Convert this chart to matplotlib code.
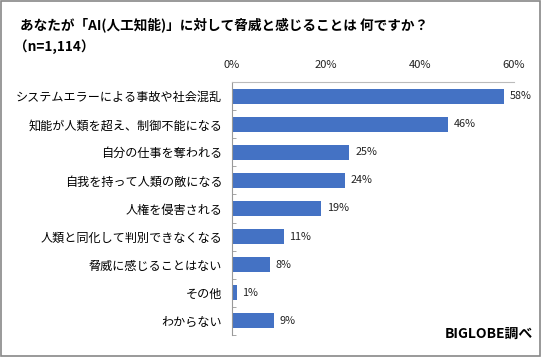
import matplotlib
matplotlib.use("Agg")
import matplotlib.pyplot as plt
from matplotlib.patches import Rectangle
from matplotlib.ticker import FuncFormatter

plt.rcParams["font.family"] = ["Noto Sans CJK JP", "DejaVu Sans"]

# ---------------------------------------------------------------------------
# Data
# ---------------------------------------------------------------------------
categories = [
    "システムエラーによる事故や社会混乱",
    "知能が人類を超え、制御不能になる",
    "自分の仕事を奪われる",
    "自我を持って人類の敵になる",
    "人権を侵害される",
    "人類と同化して判別できなくなる",
    "脅威に感じることはない",
    "その他",
    "わからない",
]
values = [58, 46, 25, 24, 19, 11, 8, 1, 9]
xticks = [0, 20, 40, 60]

BAR_COLOR = "#4472C4"

fig = plt.figure(figsize=(5.41, 3.57), dpi=100)
ax = fig.add_axes([0.4288, 0.062, 0.521, 0.708])

y = list(range(len(categories)))
ax.barh(y, values, height=0.53, color=BAR_COLOR)

for yi, v in zip(y, values):
    ax.text(v + 1.2, yi, f"{v}%", va="center", ha="left", fontsize=7.8,
            color="#222222")

ax.set_xlim(0, 60)
ax.set_ylim(len(categories) - 0.5, -0.5)
ax.set_xticks(xticks)
ax.xaxis.set_major_formatter(FuncFormatter(lambda v, p: f"{v:.0f}%"))
ax.xaxis.tick_top()
ax.tick_params(axis="x", length=0, labelsize=8, pad=9, colors="#222222")

ax.set_yticks(y)
ax.set_yticklabels(categories, fontsize=8.7)
ax.tick_params(axis="y", length=0, pad=7)
ax.set_yticks([i + 0.5 for i in range(-1, len(categories))], minor=True)
ax.tick_params(axis="y", which="minor", length=3, direction="in",
               color="#999999")

for side in ["right", "bottom"]:
    ax.spines[side].set_visible(False)
ax.spines["top"].set_color("#BBBBBB")
ax.spines["left"].set_color("#999999")

fig.text(0.037, 0.93, "あなたが「AI(人工知能)」に対して脅威と感じることは 何ですか？",
         fontsize=9.8, fontweight="bold", va="center", ha="left")
fig.text(0.025, 0.868, "（n=1,114）", fontsize=9.8, fontweight="bold",
         va="center", ha="left")
fig.text(0.985, 0.065, "BIGLOBE調べ", fontsize=10, fontweight="bold",
         va="center", ha="right")

fig.patches.append(Rectangle((0.001, 0.002), 0.997, 0.995, transform=fig.transFigure,
                             fill=False, edgecolor="#888888", linewidth=1.2))

fig.savefig("out.png", dpi=100)
